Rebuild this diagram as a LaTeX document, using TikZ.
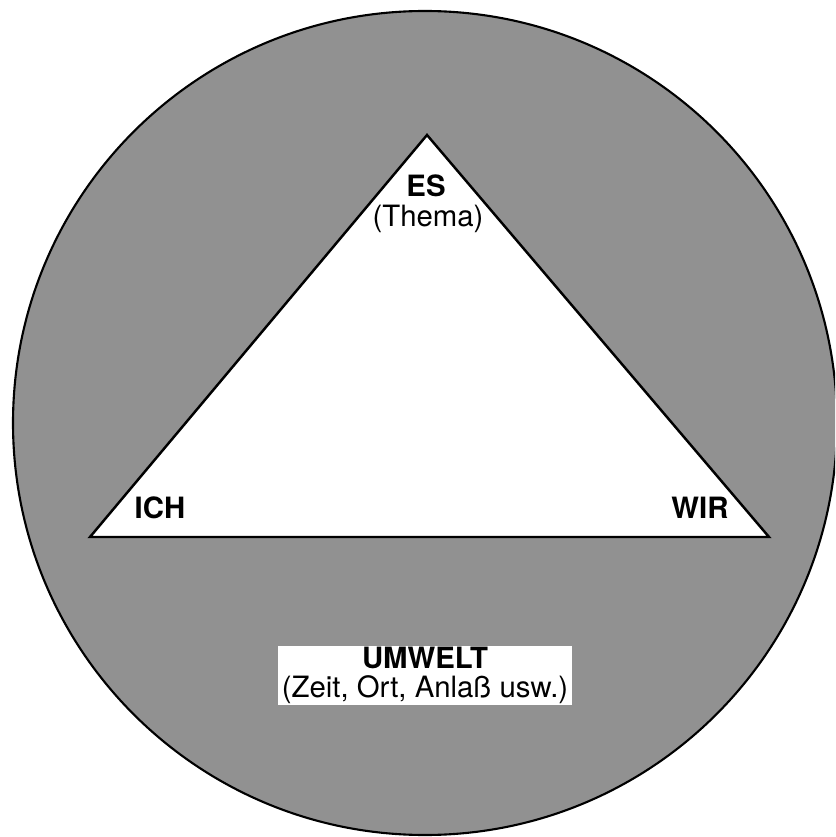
\documentclass[tikz,border=0pt]{standalone}
\usepackage{fontspec}
\setmainfont{TeX Gyre Heros}
\definecolor{envgray}{HTML}{919191}

\begin{document}
\begin{tikzpicture}[
    x={(0.02cm,0cm)}, y={(0cm,-0.02cm)},
    edge/.style={draw=black, line width=1.4pt, line join=miter},
    cornerlbl/.style={font=\fontsize{16.7}{19}\selectfont\bfseries, anchor=base},
    notelbl/.style={font=\fontsize{16.7}{19}\selectfont, anchor=base},
]

\useasboundingbox (0,0) rectangle (835,837);
\clip (0,0) rectangle (835,837);

% Umwelt circle
\fill[envgray, draw=black, line width=1.2pt] (425,423) circle (412);

% Triangle corners
\coordinate (es) at (427,135);
\coordinate (ich) at (90,537);
\coordinate (wir) at (769,537);

\fill[white, edge] (es) -- (ich) -- (wir) -- cycle;

% Corner labels
\node[cornerlbl] (eslbl) at (426,197) {ES};
\node[notelbl] (thema) at (428,227) {(Thema)};
\node[cornerlbl] (ichlbl) at (160,518) {ICH};
\node[cornerlbl] (wirlbl) at (700,518) {WIR};

% Umwelt label
\fill[white] (278,646) rectangle (572,705);
\node[cornerlbl] (umwelt) at (425,668) {UMWELT};
\node[notelbl] (umweltnote) at (425,697) {(Zeit, Ort, Anlaß usw.)};

\end{tikzpicture}
\end{document}
